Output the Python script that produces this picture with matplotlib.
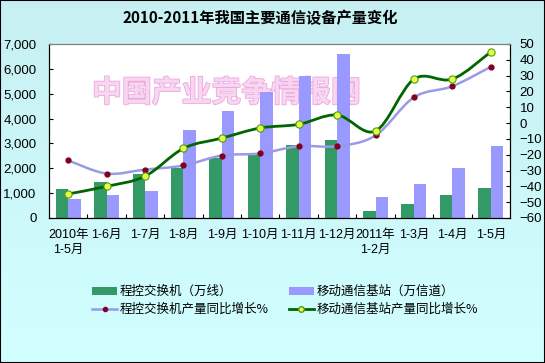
import numpy as np
import matplotlib
matplotlib.use("Agg")
import matplotlib.pyplot as plt
import matplotlib.patheffects as pe
from matplotlib.path import Path
from matplotlib.patches import PathPatch, Rectangle, Patch
from matplotlib.lines import Line2D
from matplotlib.ticker import FuncFormatter, FixedLocator

plt.rcParams["font.family"] = ["Liberation Sans", "Noto Sans CJK SC", "DejaVu Sans"]

months = ["2010年\n1-5月", "1-6月", "1-7月", "1-8月", "1-9月", "1-10月",
          "1-11月", "1-12月", "2011年\n1-2月", "1-3月", "1-4月", "1-5月"]
switch = [1150, 1450, 1770, 2030, 2420, 2570, 2930, 3130, 280, 560, 920, 1200]
mobile = [760, 920, 1085, 3530, 4300, 5075, 5715, 6585, 855, 1365, 2020, 2890]
switch_growth = [-23.6, -31.9, -29.4, -26.8, -20.5, -19.2, -14.6, -14.6, -7.8, 16.3, 23.3, 35.6]
mobile_growth = [-44.8, -40.0, -33.6, -16.0, -9.5, -3.1, -0.8, 5.1, -5.0, 27.8, 27.8, 45.0]

GREEN_BAR = "#339966"
BLUE_BAR = "#9999ff"
PURPLE_LINE = "#9a9ae6"
GREEN_LINE = "#006600"


def smooth_path(x, y):
    # Excel 风格的平滑线（Catmull-Rom 转三次贝塞尔）
    pts = np.column_stack([x, y]).astype(float)
    n = len(pts)
    verts = [pts[0]]
    codes = [Path.MOVETO]
    for i in range(n - 1):
        p0 = pts[i - 1] if i > 0 else pts[i]
        p1 = pts[i]
        p2 = pts[i + 1]
        p3 = pts[i + 2] if i + 2 < n else pts[i + 1]
        c1 = p1 + (p2 - p0) / 6
        c2 = p2 - (p3 - p1) / 6
        verts += [c1, c2, p2]
        codes += [Path.CURVE4] * 3
    return Path(verts, codes)


fig = plt.figure(figsize=(5.45, 3.63), dpi=100)

# 背景渐变
bg = fig.add_axes([0, 0, 1, 1], zorder=-10)
grad = np.linspace(0, 1, 256).reshape(-1, 1)
top = np.array([0.78, 0.94, 0.95])
bottom = np.array([0.82, 1.0, 1.0])
img = top + (bottom - top) * grad[..., None]
bg.imshow(img.reshape(256, 1, 3), aspect="auto", extent=[0, 1, 0, 1])
bg.set_axis_off()
fig.patches.append(Rectangle((0, 0), 1, 1, transform=fig.transFigure,
                             fill=False, edgecolor="black", linewidth=1.5))

ax = fig.add_axes([49 / 545, 1 - 218 / 363, (510 - 49) / 545, (218 - 44) / 363])
ax.set_facecolor("white")
x = np.arange(len(months))
w = 0.325
ax.bar(x - w / 2, switch, width=w, color=GREEN_BAR, zorder=2)
ax.bar(x + w / 2, mobile, width=w, color=BLUE_BAR, zorder=2)
ax.set_xlim(-0.5, len(months) - 0.5)
ax.set_ylim(0, 7000)
ax.yaxis.set_major_locator(FixedLocator(range(0, 7001, 1000)))
ax.yaxis.set_major_formatter(FuncFormatter(lambda v, p: f"{int(v):,}"))
ax.set_xticks(x)
ax.set_xticklabels(months, fontsize=9, linespacing=1.35)
ax.set_xticks(np.arange(0.5, len(months) - 1, 1), minor=True)
ax.tick_params(axis="x", which="major", length=0, pad=8)
ax.tick_params(axis="x", which="minor", direction="in", length=3, width=0.8)
ax.tick_params(axis="y", direction="in", length=3, width=0.8, labelsize=9.5, pad=9)
ax.spines["top"].set_color("#808080")
for s in ("left", "bottom"):
    ax.spines[s].set_color("black")

ax.text(0.385, 0.72, "中国产业竞争情报网", transform=ax.transAxes, ha="center",
        va="center", fontsize=21.5, fontweight="bold", color="#f8d6f2",
        family=["Noto Sans CJK SC"], zorder=1,
        path_effects=[pe.withStroke(linewidth=1.2, foreground="#eaa8dc")])

ax2 = ax.twinx()
ax2.set_ylim(-60, 50)
ax2.yaxis.set_major_locator(FixedLocator(range(-60, 51, 10)))
ax2.tick_params(axis="y", direction="in", length=3, width=0.8, labelsize=9.5, pad=7)
ax2.spines["right"].set_color("black")
ax2.spines["top"].set_color("#808080")

ax2.add_patch(PathPatch(smooth_path(x, switch_growth), fill=False,
                        edgecolor=PURPLE_LINE, linewidth=1.8, zorder=3))
ax2.plot(x, switch_growth, linestyle="none", marker="o", markersize=3.5,
         color="#800020", zorder=4)
ax2.add_patch(PathPatch(smooth_path(x, mobile_growth), fill=False,
                        edgecolor=GREEN_LINE, linewidth=2.0, zorder=5))
ax2.plot(x, mobile_growth, linestyle="none", marker="o", markersize=5.2,
         markerfacecolor="#e8ff40", markeredgecolor="#4a9a20",
         markeredgewidth=0.8, zorder=6)

fig.text(0.478, 0.95, "2010-2011年我国主要通信设备产量变化", ha="center",
         va="center", fontsize=11, fontweight="bold",
         family=["Noto Sans CJK SC"])

handles = [
    Patch(facecolor=GREEN_BAR),
    Line2D([], [], color=PURPLE_LINE, linewidth=1.8, marker="o",
           markersize=3, markerfacecolor="#800020", markeredgecolor="#800020"),
    Patch(facecolor=BLUE_BAR),
    Line2D([], [], color=GREEN_LINE, linewidth=2.0, marker="o", markersize=4,
           markerfacecolor="#e8ff40", markeredgecolor="#4a9a20"),
]
labels = ["程控交换机（万线）", "程控交换机产量同比增长%",
          "移动通信基站（万信道）", "移动通信基站产量同比增长%"]
fig.legend(handles, labels, ncol=2, frameon=False, loc="upper left",
           bbox_to_anchor=(86 / 545, 1 - 279 / 363), borderpad=0,
           handlelength=2.0, handletextpad=0.2,
           columnspacing=1.6, labelspacing=0.4,
           prop={"family": ["Noto Sans CJK SC"], "size": 9})

fig.savefig("out.png", dpi=100)
